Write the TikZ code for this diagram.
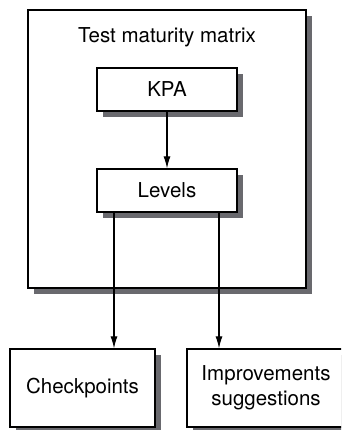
\documentclass[tikz,border=0pt]{standalone}
\usepackage{fontspec}
\setmainfont{TeX Gyre Heros}
\usetikzlibrary{shadows,arrows.meta}
\definecolor{shadowgray}{RGB}{105,105,110}
\tikzset{
  box/.style={draw=black, line width=1.3pt, fill=white, rectangle, inner sep=0pt, align=center,
    drop shadow={shadow xshift=6pt, shadow yshift=-6pt, fill=shadowgray, opacity=1}},
  conn/.style={line width=1.1pt, -{Latex[length=12pt,width=7pt]}},
}
\begin{document}
\begin{tikzpicture}[x=1pt,y=-1pt,font=\fontsize{20.5}{25}\selectfont]
\useasboundingbox (0,0) rectangle (341,430);
\clip (0,0) rectangle (341,430);
\node[box, minimum width=278pt, minimum height=278pt] (outer) at (167,149) {};
\node (title) at (167,37) {Test maturity matrix};
\node[box, minimum width=140pt, minimum height=43pt] (kpa) at (167,89.5) {KPA};
\node[box, minimum width=140pt, minimum height=43pt] (levels) at (167,190.5) {Levels};
\node[box, minimum width=145pt, minimum height=78pt] (check) at (82.5,388) {Checkpoints};
\node[box, minimum width=158pt, minimum height=78pt] (impr) at (266,388) {Improvements\\suggestions};
\draw[conn] (kpa.south) -- (levels.north);
\draw[conn] (levels.south -| 114,0) -- (check.north -| 114,0);
\draw[conn] (levels.south -| 219,0) -- (impr.north -| 219,0);
\end{tikzpicture}
\end{document}
